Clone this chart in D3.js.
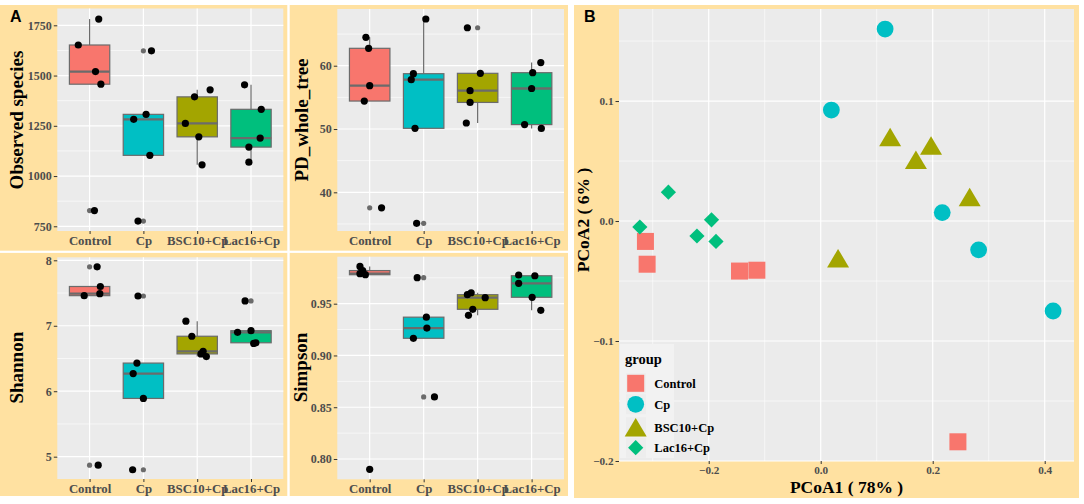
<!DOCTYPE html>
<html><head><meta charset="utf-8">
<script src="https://cdn.jsdelivr.net/npm/d3@7"></script>
<style>body{margin:0;background:#fff}svg{display:block}</style>
</head><body>
<svg id="c" width="1084" height="504"></svg>
<script>
// ---------------- DATA ----------------
const groups = ["Control", "Cp", "BSC10+Cp", "Lac16+Cp"];

const observedSpecies = [
  [1652, 1781, 1520, 1457, 828],
  [1282, 1307, 1103, 1623, 776],
  [1262, 1394, 1195, 1429, 1056],
  [1454, 1332, 1189, 1144, 1069]
];
const observedJitter = [
  [-0.21, 0.17, 0.11, 0.21, 0.09],
  [-0.18, 0.05, 0.12, 0.15, -0.10],
  [-0.22, -0.05, 0.03, 0.24, 0.09],
  [-0.12, 0.19, 0.17, -0.04, -0.04]
];
const observedTicks = [750, 1000, 1250, 1500, 1750];

const pdWholeTree = [
  [64.49, 62.75, 56.84, 54.42, 37.55],
  [58.74, 57.8, 50.11, 67.38, 35.1],
  [66.0, 58.8, 56.05, 54.2, 50.95],
  [60.5, 58.9, 56.4, 50.7, 50.1]
];
const pdJitter = [
  [-0.07, -0.02, 0, -0.10, 0.22],
  [-0.19, -0.23, -0.16, 0.04, -0.13],
  [-0.19, 0.05, -0.14, -0.14, -0.21],
  [0.17, 0.02, 0, -0.13, 0.18]
];
const pdTicks = [40, 50, 60];

const shannon = [
  [7.90, 7.60, 7.49, 7.46, 4.87],
  [7.455, 6.43, 6.27, 5.89, 4.80],
  [7.07, 6.84, 6.61, 6.57, 6.53],
  [7.38, 6.90, 6.925, 6.73, 6.74]
];
const shannonJitter = [
  [0.14, 0.20, 0.19, -0.10, 0.16],
  [-0.10, -0.12, -0.19, 0, -0.20],
  [-0.21, -0.10, 0.11, 0.07, 0.17],
  [-0.11, -0.25, 0, 0.05, 0.09]
];
const shannonTicks = [5, 6, 7, 8];

const simpson = [
  [0.986, 0.979, 0.982, 0.978, 0.790],
  [0.9751, 0.937, 0.9265, 0.9166, 0.860],
  [0.9587, 0.9606, 0.9558, 0.9446, 0.9388],
  [0.9777, 0.977, 0.9697, 0.9562, 0.9436]
];
const simpsonJitter = [
  [-0.18, -0.18, -0.13, -0.08, 0],
  [-0.12, 0.05, 0.06, -0.19, 0.20],
  [-0.19, -0.12, 0.14, -0.09, -0.17],
  [-0.24, 0.06, -0.24, 0.01, 0.17]
];
const simpsonTicks = [0.80, 0.85, 0.90, 0.95];

// PCoA coordinates per group
const pcoaControlX = [-0.313, -0.310, -0.145, -0.114, 0.245];
const pcoaControlY = [-0.017, -0.036, -0.0417, -0.041, -0.184];
const pcoaCpX = [0.115, 0.019, 0.217, 0.282, 0.415];
const pcoaCpY = [0.160, 0.0925, 0.007, -0.024, -0.075];
const pcoaBscX = [0.124, 0.197, 0.170, 0.266, 0.031];
const pcoaBscY = [0.070, 0.063, 0.051, 0.020, -0.031];
const pcoaLacX = [-0.272, -0.323, -0.195, -0.221, -0.187];
const pcoaLacY = [0.024, -0.005, 0.001, -0.0125, -0.017];
const pcoaXTicks = [-0.2, 0.0, 0.2, 0.4];
const pcoaYTicks = [-0.2, -0.1, 0.0, 0.1];

// ---------------- STYLE ----------------
const groupColors = ["#F8766D", "#00BFC4", "#A3A500", "#00BF7D"];
const SERIF = "'Liberation Serif','Times New Roman',serif";
const SANS = "'Liberation Sans',Arial,sans-serif";
const YELLOW = "#FFE1A1";
const PANEL = "#EBEBEB";
const BOXLINE = "#6B6B6B";
const TICKTXT = "#4D4D4D";

const svg = d3.select("#c");
svg.append("rect").attr("width", 1084).attr("height", 504).attr("fill", "#fff");

// background frames
svg.append("rect").attr("x", 0).attr("y", 5).attr("width", 568).attr("height", 491).attr("fill", YELLOW);
svg.append("rect").attr("x", 287.3).attr("y", 5).attr("width", 2.4).attr("height", 491).attr("fill", "#fff");
svg.append("rect").attr("x", 0).attr("y", 250.7).attr("width", 568).attr("height", 2.2).attr("fill", "#fff");
svg.append("rect").attr("x", 574).attr("y", 5).attr("width", 505).attr("height", 493).attr("fill", YELLOW);

svg.append("text").attr("x", 10).attr("y", 21.7).text("A")
  .attr("font-family", SANS).attr("font-weight", "bold").attr("font-size", 16);
svg.append("text").attr("x", 584).attr("y", 22).text("B")
  .attr("font-family", SANS).attr("font-weight", "bold").attr("font-size", 16);

function boxStats(vals) {
  const s = vals.slice().sort(d3.ascending);
  const q1 = d3.quantileSorted(s, 0.25), med = d3.quantileSorted(s, 0.5), q3 = d3.quantileSorted(s, 0.75);
  const iqr = q3 - q1, lo = q1 - 1.5 * iqr, hi = q3 + 1.5 * iqr;
  const inside = s.filter(v => v >= lo && v <= hi);
  return { q1, med, q3, wlo: d3.min(inside), whi: d3.max(inside), out: s.filter(v => v < lo || v > hi) };
}

function boxPanel(cfg) {
  const g = svg.append("g");
  const x = d3.scalePoint().domain(groups).range([cfg.x0, cfg.x1]).padding(0.6);
  const y = d3.scaleLinear().domain(cfg.domain).range([cfg.y1, cfg.y0]);
  const step = x.step();
  g.append("rect").attr("x", cfg.x0).attr("y", cfg.y0).attr("width", cfg.x1 - cfg.x0)
    .attr("height", cfg.y1 - cfg.y0).attr("fill", PANEL);
  // minor grid
  const t = cfg.ticks, dt = t[1] - t[0];
  const minors = [];
  for (let v = t[0] - dt / 2; v <= cfg.domain[1]; v += dt) if (v >= cfg.domain[0]) minors.push(v);
  g.selectAll(null).data(minors).enter().append("line")
    .attr("x1", cfg.x0).attr("x2", cfg.x1).attr("y1", d => y(d)).attr("y2", d => y(d))
    .attr("stroke", "#fff").attr("stroke-width", 0.6);
  g.selectAll(null).data(t).enter().append("line")
    .attr("x1", cfg.x0).attr("x2", cfg.x1).attr("y1", d => y(d)).attr("y2", d => y(d))
    .attr("stroke", "#fff").attr("stroke-width", 1.2);
  g.selectAll(null).data(groups).enter().append("line")
    .attr("x1", d => x(d)).attr("x2", d => x(d)).attr("y1", cfg.y0).attr("y2", cfg.y1)
    .attr("stroke", "#fff").attr("stroke-width", 1.2);

  // axes
  const ya = d3.axisLeft(y).tickValues(t).tickSize(3.5).tickPadding(2).tickFormat(cfg.fmt || d3.format("d"));
  const yg = g.append("g").attr("transform", `translate(${cfg.x0},0)`).call(ya);
  const xa = d3.axisBottom(x).tickSize(3).tickPadding(2);
  const xg = g.append("g").attr("transform", `translate(0,${cfg.y1})`).call(xa);
  [yg, xg].forEach(a => {
    a.select(".domain").remove();
    a.selectAll("line").attr("stroke", "#333");
    a.selectAll("text").attr("font-family", SERIF).attr("font-weight", "bold")
      .attr("font-size", 12).attr("fill", TICKTXT);
  });
  xg.selectAll("text").attr("font-size", 12.8);

  // boxes
  groups.forEach((grp, i) => {
    const st = boxStats(cfg.data[i]);
    const cx = x(grp), w = step * 0.75;
    g.append("line").attr("x1", cx).attr("x2", cx).attr("y1", y(st.q3)).attr("y2", y(st.whi))
      .attr("stroke", BOXLINE).attr("stroke-width", 1.2);
    g.append("line").attr("x1", cx).attr("x2", cx).attr("y1", y(st.q1)).attr("y2", y(st.wlo))
      .attr("stroke", BOXLINE).attr("stroke-width", 1.2);
    g.append("rect").attr("x", cx - w / 2).attr("width", w).attr("y", y(st.q3))
      .attr("height", y(st.q1) - y(st.q3)).attr("fill", groupColors[i])
      .attr("stroke", BOXLINE).attr("stroke-width", 1.2);
    g.append("line").attr("x1", cx - w / 2).attr("x2", cx + w / 2).attr("y1", y(st.med)).attr("y2", y(st.med))
      .attr("stroke", BOXLINE).attr("stroke-width", 2.3);
    g.selectAll(null).data(st.out).enter().append("circle")
      .attr("cx", cx).attr("cy", d => y(d)).attr("r", 2.6).attr("fill", BOXLINE);
  });
  // jitter points
  groups.forEach((grp, i) => {
    g.selectAll(null).data(cfg.data[i]).enter().append("circle")
      .attr("cx", (d, j) => x(grp) + cfg.jitter[i][j] * step).attr("cy", d => y(d))
      .attr("r", 3.6).attr("fill", "#000");
  });
  // title
  g.append("text").attr("transform", `translate(${cfg.tx},${cfg.ty}) rotate(-90)`)
    .attr("text-anchor", "middle").attr("dy", "0.35em").text(cfg.title)
    .attr("font-family", SERIF).attr("font-weight", "bold").attr("font-size", 19).attr("fill", "#000");
}

boxPanel({ x0: 57.3, x1: 283.3, y0: 8.5, y1: 231, domain: [726.6, 1833.6], ticks: observedTicks,
  data: observedSpecies, jitter: observedJitter, title: "Observed species", tx: 16.7, ty: 120 });
boxPanel({ x0: 337.3, x1: 564, y0: 9, y1: 231, domain: [33.89, 68.96], ticks: pdTicks,
  data: pdWholeTree, jitter: pdJitter, title: "PD_whole_tree", tx: 301.7, ty: 120 });
boxPanel({ x0: 57.3, x1: 283.3, y0: 257.3, y1: 479, domain: [4.659, 8.046], ticks: shannonTicks,
  data: shannon, jitter: shannonJitter, title: "Shannon", tx: 16, ty: 367.7 });
boxPanel({ x0: 337.3, x1: 564, y0: 256.7, y1: 479.3, domain: [0.78039, 0.9954], ticks: simpsonTicks,
  fmt: d3.format(".2f"), data: simpson, jitter: simpsonJitter, title: "Simpson", tx: 300, ty: 367.5 });

// ---------------- PCoA ----------------
(function () {
  const X0 = 619, X1 = 1074, Y0 = 9, Y1 = 461;
  const g = svg.append("g");
  const x = d3.scaleLinear().domain([-0.3602, 0.4523]).range([X0, X1]);
  const y = d3.scaleLinear().domain([-0.2, 0.1767]).range([Y1, Y0]);
  g.append("rect").attr("x", X0).attr("y", Y0).attr("width", X1 - X0).attr("height", Y1 - Y0).attr("fill", PANEL);
  const xMin = [-0.3, -0.1, 0.1, 0.3], yMin = [-0.15, -0.05, 0.05, 0.15];
  g.selectAll(null).data(xMin).enter().append("line").attr("x1", d => x(d)).attr("x2", d => x(d))
    .attr("y1", Y0).attr("y2", Y1).attr("stroke", "#fff").attr("stroke-width", 0.6);
  g.selectAll(null).data(yMin).enter().append("line").attr("y1", d => y(d)).attr("y2", d => y(d))
    .attr("x1", X0).attr("x2", X1).attr("stroke", "#fff").attr("stroke-width", 0.6);
  g.selectAll(null).data(pcoaXTicks).enter().append("line").attr("x1", d => x(d)).attr("x2", d => x(d))
    .attr("y1", Y0).attr("y2", Y1).attr("stroke", "#fff").attr("stroke-width", 1.2);
  g.selectAll(null).data(pcoaYTicks).enter().append("line").attr("y1", d => y(d)).attr("y2", d => y(d))
    .attr("x1", X0).attr("x2", X1).attr("stroke", "#fff").attr("stroke-width", 1.2);

  const fmt = v => (v < 0 ? "\u2212" : "") + d3.format(".1f")(Math.abs(v));
  const xg = g.append("g").attr("transform", `translate(0,${Y1})`)
    .call(d3.axisBottom(x).tickValues(pcoaXTicks).tickSize(3).tickPadding(2).tickFormat(fmt));
  const yg = g.append("g").attr("transform", `translate(${X0},0)`)
    .call(d3.axisLeft(y).tickValues(pcoaYTicks).tickSize(3.5).tickPadding(2).tickFormat(fmt));
  [xg, yg].forEach(a => {
    a.select(".domain").remove();
    a.selectAll("line").attr("stroke", "#333");
    a.selectAll("text").attr("font-family", SERIF).attr("font-weight", "bold")
      .attr("font-size", 11.2).attr("fill", TICKTXT);
  });

  g.append("text").attr("x", (X0 + X1) / 2).attr("y", 493).attr("text-anchor", "middle")
    .text("PCoA1 ( 78% )").attr("font-family", SERIF).attr("font-weight", "bold").attr("font-size", 17.5);
  g.append("text").attr("transform", `translate(583,220) rotate(-90)`).attr("text-anchor", "middle")
    .attr("dy", "0.35em").text("PCoA2 ( 6% )").attr("font-family", SERIF).attr("font-weight", "bold").attr("font-size", 17.5);

  const shapes = [
    (s) => s.append("rect").attr("x", -8.5).attr("y", -8.5).attr("width", 17).attr("height", 17),
    (s) => s.append("circle").attr("r", 8.4),
    (s) => s.append("path").attr("d", "M0,-9.3L11,9.2L-11,9.2Z"),
    (s) => s.append("path").attr("d", "M0,-7.6L7.6,0L0,7.6L-7.6,0Z")
  ];
  const sets = [[pcoaControlX, pcoaControlY], [pcoaCpX, pcoaCpY], [pcoaBscX, pcoaBscY], [pcoaLacX, pcoaLacY]];
  sets.forEach((st, i) => {
    st[0].forEach((vx, j) => {
      const s = g.append("g").attr("transform", `translate(${x(vx)},${y(st[1][j])})`).attr("fill", groupColors[i]);
      shapes[i](s);
    });
  });

  // legend
  const L = g.append("g");
  L.append("rect").attr("x", 620).attr("y", 344).attr("width", 54).attr("height", 114).attr("fill", "#F2F2F2");
  L.append("text").attr("x", 625).attr("y", 364).text("group")
    .attr("font-family", SERIF).attr("font-weight", "bold").attr("font-size", 14.5);
  const keyY = [383.3, 404.3, 427.3, 447.7];
  groups.forEach((grp, i) => {
    L.append("rect").attr("x", 626).attr("y", keyY[i] - 10).attr("width", 20).attr("height", 20).attr("fill", "#EDEDED");
    const s = L.append("g").attr("transform", `translate(635.7,${keyY[i]})`).attr("fill", groupColors[i]);
    shapes[i](s);
    L.append("text").attr("x", 654.3).attr("y", keyY[i]).attr("dy", "0.35em").text(grp)
      .attr("font-family", SERIF).attr("font-weight", "bold").attr("font-size", 12.5);
  });
})();
</script>
</body></html>
